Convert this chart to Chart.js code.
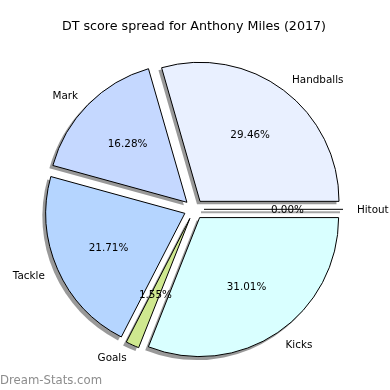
<!DOCTYPE html>
<html>
<head>
<meta charset="utf-8">
<script src="https://cdn.jsdelivr.net/npm/chart.js@4"></script>
<style>
  html, body { margin: 0; padding: 0; background: #fff; }
  #wrap { width: 390px; height: 390px; }
</style>
</head>
<body>
<div id="wrap"><canvas id="myChart" width="390" height="390"></canvas></div>
<script>
// listed clockwise from east (matplotlib draws them counter-clockwise)
const categories = ['Hitout', 'Kicks', 'Goals', 'Tackle', 'Mark', 'Handballs'];
const shares = [0.00, 31.01, 1.55, 21.71, 16.28, 29.46];
const colours = ['#f0f0ff', '#d9ffff', '#cfe88f', '#b5d5ff', '#c5d8ff', '#e9f0ff'];

const EXPLODE = 10;
const total = shares.reduce((a, b) => a + b, 0);

// move every wedge out along its middle angle, like matplotlib's explode
const explodePlugin = {
  id: 'explode',
  afterDatasetsUpdate(chart) {
    chart.getDatasetMeta(0).data.forEach(arc => {
      const mid = (arc.startAngle + arc.endAngle) / 2;
      arc.x += Math.cos(mid) * EXPLODE;
      arc.y += Math.sin(mid) * EXPLODE;
    });
  }
};

// gray drop shadow under each wedge, drawn before the wedges themselves
const shadowPlugin = {
  id: 'shadow',
  beforeDatasetsDraw(chart) {
    const ctx = chart.ctx;
    ctx.save();
    ctx.translate(-3, 3);
    chart.getDatasetMeta(0).data.forEach(arc => {
      ctx.beginPath();
      if (arc.circumference === 0) {
        const a = arc.startAngle;
        ctx.moveTo(arc.x, arc.y);
        ctx.lineTo(arc.x + Math.cos(a) * arc.outerRadius, arc.y + Math.sin(a) * arc.outerRadius);
        ctx.strokeStyle = 'rgba(0,0,0,0.35)';
        ctx.lineWidth = 2;
        ctx.stroke();
        return;
      }
      ctx.moveTo(arc.x, arc.y);
      ctx.arc(arc.x, arc.y, arc.outerRadius + 0.5, arc.startAngle, arc.endAngle);
      ctx.closePath();
      ctx.fillStyle = 'rgba(0,0,0,0.4)';
      ctx.fill();
    });
    ctx.restore();
  },
  afterDatasetsDraw(chart) {
    // zero-sized wedges show up as one edge line
    const ctx = chart.ctx;
    ctx.save();
    chart.getDatasetMeta(0).data.forEach(arc => {
      if (arc.circumference === 0) {
        const a = arc.startAngle;
        ctx.beginPath();
        ctx.moveTo(arc.x, arc.y);
        ctx.lineTo(arc.x + Math.cos(a) * arc.outerRadius, arc.y + Math.sin(a) * arc.outerRadius);
        ctx.strokeStyle = '#000';
        ctx.lineWidth = 1;
        ctx.stroke();
      }
    });
    ctx.restore();
  }
};

const labelPlugin = {
  id: 'labels',
  afterDatasetsDraw(chart) {
    const ctx = chart.ctx;
    ctx.save();
    ctx.font = '10.4px "DejaVu Sans"';
    ctx.fillStyle = '#000';
    ctx.textBaseline = 'middle';
    chart.getDatasetMeta(0).data.forEach((arc, i) => {
      const mid = (arc.startAngle + arc.endAngle) / 2;
      const c = Math.cos(mid), s = Math.sin(mid);
      const r = arc.outerRadius;
      ctx.textAlign = c >= -1e-9 ? 'left' : 'right';
      ctx.fillText(categories[i], arc.x + c * r * 1.1, arc.y + s * r * 1.1 + 1);
      ctx.textAlign = 'center';
      const pct = (shares[i] / total * 100).toFixed(2) + '%';
      ctx.fillText(pct, arc.x + c * r * 0.6, arc.y + s * r * 0.6 + 1);
    });
    // watermark
    ctx.font = '11.7px "DejaVu Sans"';
    ctx.fillStyle = 'rgba(120,120,120,0.85)';
    ctx.textAlign = 'left';
    ctx.fillText('Dream-Stats.com', 0, 381);
    ctx.restore();
  }
};

const CHART = document.getElementById('myChart');
let piechart = new Chart(CHART, {
  type: 'pie',
  data: {
    labels: categories,
    datasets: [{
      data: shares,
      backgroundColor: colours,
      borderColor: '#000',
      borderWidth: 1,
      radius: 139
    }]
  },
  options: {
    responsive: false,
    animation: false,
    rotation: 90,
    layout: { padding: { left: 1, right: 3, top: 0, bottom: 14.4 } },
    plugins: {
      legend: { display: false },
      tooltip: { enabled: false },
      title: {
        display: true,
        text: 'DT score spread for Anthony Miles (2017)',
        color: '#000',
        font: { family: 'DejaVu Sans', size: 12.7, weight: 'normal', lineHeight: 1.2 },
        padding: { top: 19, bottom: 8.8 }
      }
    }
  },
  plugins: [explodePlugin, shadowPlugin, labelPlugin]
});
</script>
</body>
</html>
